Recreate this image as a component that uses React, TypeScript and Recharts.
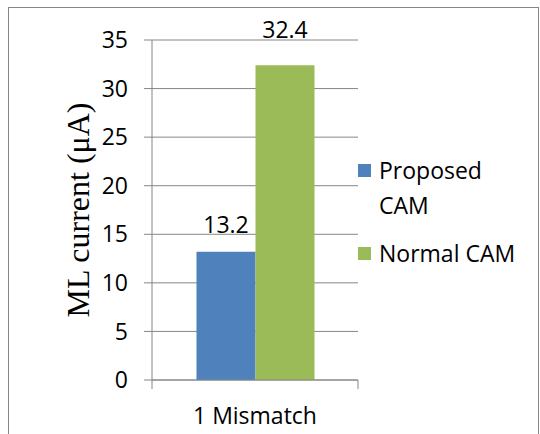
import React from "react";
import {
  BarChart, Bar, XAxis, YAxis, CartesianGrid, Legend, LabelList,
} from "recharts";

// ML current per mismatch case, in µA
const categories = ["1 Mismatch"];
const proposedCam = [13.2];
const normalCam = [32.4];
const yTicks = [0, 5, 10, 15, 20, 25, 30, 35];

const series = [
  { key: "proposed", name: "Proposed CAM", color: "#4F81BD", values: proposedCam, labelGap: 19 },
  { key: "normal", name: "Normal CAM", color: "#9BBB59", values: normalCam, labelGap: 27 },
];

const data = categories.map((c, i) => {
  const row: Record<string, string | number> = { cat: c };
  series.forEach((s) => { row[s.key] = s.values[i]; });
  return row;
});

const FONT = "'Open Sans', sans-serif";
const GRID = "#868686";
const LEGEND_W = 170;

// category label plus the two boundary tick marks (Excel style)
function CatTick(props: any) {
  const { x, y, payload, width } = props;
  const half = (width ?? 205) / 2;
  return (
    <g>
      <line x1={x - half} y1={y - 9} x2={x - half} y2={y} stroke={GRID} />
      <line x1={x + half} y1={y - 9} x2={x + half} y2={y} stroke={GRID} />
      <text x={x} y={y + 26} textAnchor="middle" dominantBaseline="central"
        fontFamily={FONT} fontSize={23} fill="#000">{payload.value}</text>
    </g>
  );
}

function YTitle({ viewBox }: any) {
  const cx = viewBox.x + 78;
  const cy = viewBox.y + viewBox.height / 2;
  return (
    <text x={cx} y={cy} transform={`rotate(-90 ${cx} ${cy})`} textAnchor="middle"
      dominantBaseline="central" fontFamily="'Liberation Serif', 'Times New Roman', serif"
      fontSize={32} fill="#000">ML current (μA)</text>
  );
}

function LegendBox() {
  return (
    <div style={{ fontFamily: FONT, fontSize: 23, lineHeight: "35px", color: "#000" }}>
      {series.map((s, i) => (
        <div key={s.key} style={{ display: "flex", alignItems: "flex-start", marginTop: i ? 13 : 0 }}>
          <span style={{ width: 13, height: 13, background: s.color, marginTop: 11, marginRight: 8, flex: "none" }} />
          <span style={{ width: 145 }}>{s.name}</span>
        </div>
      ))}
    </div>
  );
}

export default function App() {
  return (
    <div style={{ position: "absolute", left: 0, top: 0, width: 540, height: 434, background: "#fff", overflow: "hidden" }}>
      <div style={{ position: "absolute", left: 8, top: 7, width: 529, height: 460, border: `1px solid ${GRID}` }} />
      <BarChart width={540} height={434} data={data}
        margin={{ top: 40, right: 182 - LEGEND_W, bottom: 0, left: 0 }}
        barCategoryGap="21.6%" barGap={0} style={{ position: "absolute", left: 0, top: 0 }}>
        <CartesianGrid vertical={false} stroke={GRID} />
        <XAxis dataKey="cat" stroke={GRID} tickLine={{ stroke: "none" }} tickSize={9} tickMargin={0}
          tick={<CatTick />} height={54} />
        <YAxis width={152} domain={[0, 35]} ticks={yTicks} stroke={GRID} tickSize={8} tickMargin={16}
          tick={{ fill: "#000", fontFamily: FONT, fontSize: 23 }} label={<YTitle />} />
        <Legend layout="vertical" align="right" verticalAlign="middle" content={<LegendBox />}
          wrapperStyle={{ width: LEGEND_W, left: 358, top: 153 }} />
        {series.map((s) => (
          <Bar key={s.key} dataKey={s.key} name={s.name} fill={s.color} isAnimationActive={false}>
            <LabelList dataKey={s.key} position="top" offset={s.labelGap}
              style={{ fill: "#000", fontFamily: FONT, fontSize: 23 }} />
          </Bar>
        ))}
      </BarChart>
    </div>
  );
}
